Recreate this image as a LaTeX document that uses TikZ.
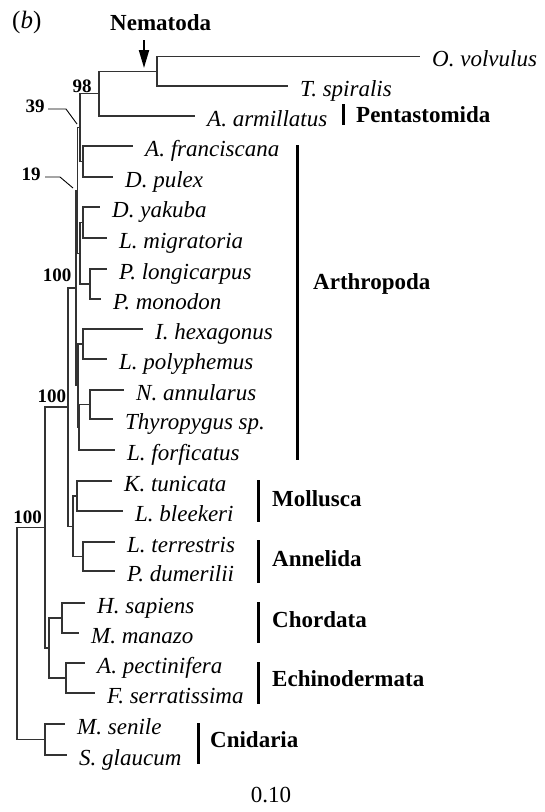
\documentclass[tikz,border=0pt]{standalone}
\usepackage{fontspec}
\setmainfont{Liberation Serif}
\usetikzlibrary{arrows.meta}
\begin{document}
\begin{tikzpicture}[x=1pt,y=-1pt,
  br/.style={draw=black!80, line width=1.3pt},
  leaf/.style={anchor=west, inner xsep=12pt, inner ysep=0pt, font=\fontsize{23}{28}\selectfont\itshape, text height=25.3pt, text depth=4.6pt},
  grp/.style={anchor=west, inner sep=0pt, font=\fontsize{23}{28}\selectfont\bfseries, text height=25.3pt, text depth=4.6pt},
  bs/.style={font=\fontsize{19}{22}\selectfont\bfseries, inner sep=0pt},
  bar/.style={draw=black, line width=3pt},
  lead/.style={draw=black, line width=0.9pt},
  arr/.style={draw=black, line width=2pt, -{Triangle[length=18pt,width=10pt]}}
]
\useasboundingbox (0,0) rectangle (545,812);

% panel label
\node[anchor=base west, inner sep=0pt, font=\fontsize{25}{30}\selectfont] (panel) at (12,28) {(\textit{b})};

% leaves
\node[leaf] (L0) at (420,56.5) {O. volvulus};
\node[leaf] (L1) at (288,86) {T. spiralis};
\node[leaf] (L2) at (195,116) {A. armillatus};
\node[leaf] (L3) at (133,146) {A. franciscana};
\node[leaf] (L4) at (113,177) {D. pulex};
\node[leaf] (L5) at (100,207) {D. yakuba};
\node[leaf] (L6) at (107,238) {L. migratoria};
\node[leaf] (L7) at (107,269) {P. longicarpus};
\node[leaf] (L8) at (101,299) {P. monodon};
\node[leaf] (L9) at (143,329) {I. hexagonus};
\node[leaf] (L10) at (107,359) {L. polyphemus};
\node[leaf] (L11) at (124,390) {N. annularus};
\node[leaf] (L12) at (113,419) {Thyropygus sp.};
\node[leaf] (L13) at (115,450) {L. forficatus};
\node[leaf] (L14) at (112,481) {K. tunicata};
\node[leaf] (L15) at (123,511) {L. bleekeri};
\node[leaf] (L16) at (115,542) {L. terrestris};
\node[leaf] (L17) at (115,571) {P. dumerilii};
\node[leaf] (L18) at (85,603) {H. sapiens};
\node[leaf] (L19) at (79,633) {M. manazo};
\node[leaf] (L20) at (85,663) {A. pectinifera};
\node[leaf] (L21) at (95,693) {F. serratissima};
\node[leaf] (L22) at (65,724) {M. senile};
\node[leaf] (L23) at (67,755) {S. glaucum};

% internal nodes
\coordinate (nem) at (157,71.25);
\coordinate (n98) at (99,93.6);
\coordinate (afd) at (83,161.5);
\coordinate (n39) at (80,127.6);
\coordinate (yl) at (83,222.5);
\coordinate (pp) at (90,284);
\coordinate (n80b) at (80,253.25);
\coordinate (n19) at (77.5,190.4);
\coordinate (ip) at (83,344);
\coordinate (nt) at (90,404.5);
\coordinate (nf) at (79,427.25);
\coordinate (n78) at (78,385.6);
\coordinate (arth) at (76,288);
\coordinate (mo) at (77,496);
\coordinate (an) at (83,556.5);
\coordinate (lo) at (73,526.25);
\coordinate (pro) at (68,407.1);
\coordinate (ch) at (62,618);
\coordinate (ec) at (66,678);
\coordinate (deu) at (49,648);
\coordinate (bil) at (45,527.6);
\coordinate (cn) at (45,739.5);
\coordinate (root) at (17,633.5);

% branches
\draw[br] (nem) |- (L0.west);  \draw[br] (nem) |- (L1.west);
\draw[br] (n98) |- (nem);      \draw[br] (n98) |- (L2.west);
\draw[br] (afd) |- (L3.west);  \draw[br] (afd) |- (L4.west);
\draw[br] (n39) |- (n98);      \draw[br] (n39) |- (afd);
\draw[br] (yl) |- (L5.west);   \draw[br] (yl) |- (L6.west);
\draw[br] (pp) |- (L7.west);   \draw[br] (pp) |- (L8.west);
\draw[br] (n80b) |- (yl);      \draw[br] (n80b) |- (pp);
\draw[br] (n19) |- (n39);      \draw[br] (n19) |- (n80b);
\draw[br] (ip) |- (L9.west);   \draw[br] (ip) |- (L10.west);
\draw[br] (nt) |- (L11.west);  \draw[br] (nt) |- (L12.west);
\draw[br] (nf) |- (nt);        \draw[br] (nf) |- (L13.west);
\draw[br] (n78) |- (ip);       \draw[br] (n78) |- (nf);
\draw[br] (arth) |- (n19);     \draw[br] (arth) |- (n78);
\draw[br] (mo) |- (L14.west);  \draw[br] (mo) |- (L15.west);
\draw[br] (an) |- (L16.west);  \draw[br] (an) |- (L17.west);
\draw[br] (lo) |- (mo);        \draw[br] (lo) |- (an);
\draw[br] (pro) |- (arth);     \draw[br] (pro) |- (lo);
\draw[br] (ch) |- (L18.west);  \draw[br] (ch) |- (L19.west);
\draw[br] (ec) |- (L20.west);  \draw[br] (ec) |- (L21.west);
\draw[br] (deu) |- (ch);       \draw[br] (deu) |- (ec);
\draw[br] (bil) |- (pro);      \draw[br] (bil) |- (deu);
\draw[br] (cn) |- (L22.west);  \draw[br] (cn) |- (L23.west);
\draw[br] (root) |- (bil);     \draw[br] (root) |- (cn);

% bootstrap values
\node[bs] (b98) at (82,86) {98};
\node[bs] (b39) at (35,106) {39};
\node[bs] (b19) at (31,174) {19};
\node[bs] (b100a) at (57,275) {100};
\node[bs] (b100b) at (52,396) {100};
\node[bs] (b100c) at (27.5,517.5) {100};
\coordinate (p39) at (77,124);
\coordinate (p19) at (73,188);
\draw[lead] (48,109) -- (66,109) -- (p39);
\draw[lead] (45,177) -- (60,177) -- (p19);

% Nematoda arrow
\node[grp, anchor=base west] (nemlab) at (110,30) {Nematoda};
\coordinate (arrtip) at (144,68);
\draw[arr] (144,40) -- (arrtip);

% group labels
\node[grp] (pen) at (356,112.6) {Pentastomida};
\draw[bar] (343,104) -- (343,125);
\node[grp] (art) at (313,279.6) {Arthropoda};
\draw[bar] (297,145) -- (297,460);
\node[grp] (mol) at (272,496.6) {Mollusca};
\draw[bar] (258,480) -- (258,522);
\node[grp] (ann) at (272,556.6) {Annelida};
\draw[bar] (258,540) -- (258,583);
\node[grp] (cho) at (272,617.6) {Chordata};
\draw[bar] (258,602) -- (258,643);
\node[grp] (ech) at (272,676.6) {Echinodermata};
\draw[bar] (258,662) -- (258,704);
\node[grp] (cni) at (210,737.6) {Cnidaria};
\draw[bar] (198,723) -- (198,764);

% scale
\node[inner sep=0pt, font=\fontsize{23}{28}\selectfont, text height=25.3pt, text depth=4.6pt] (scale) at (271,792.6) {0.10};
\end{tikzpicture}
\end{document}
